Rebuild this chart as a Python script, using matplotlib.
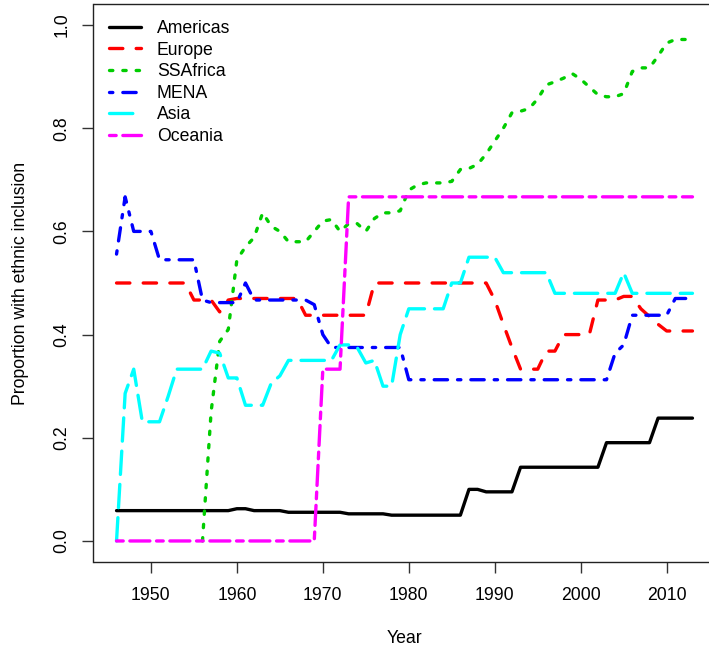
import numpy as np
import matplotlib
matplotlib.use("Agg")
import matplotlib.pyplot as plt

plt.rcParams['font.family'] = ['Liberation Sans', 'DejaVu Sans']

years = list(range(1946, 2014))

americas = [0.0588, 0.0588, 0.0588, 0.0588, 0.0588, 0.0588, 0.0588, 0.0588, 0.0588, 0.0588,
            0.0588, 0.0588, 0.0588, 0.0588, 0.0625, 0.0625, 0.0588, 0.0588, 0.0588, 0.0588,
            0.0556, 0.0556, 0.0556, 0.0556, 0.0556, 0.0556, 0.0556, 0.0526, 0.0526, 0.0526,
            0.0526, 0.0526, 0.05, 0.05, 0.05, 0.05, 0.05, 0.05, 0.05, 0.05,
            0.05, 0.1, 0.1, 0.0952, 0.0952, 0.0952, 0.0952, 0.1429, 0.1429, 0.1429,
            0.1429, 0.1429, 0.1429, 0.1429, 0.1429, 0.1429, 0.1429, 0.1905, 0.1905, 0.1905,
            0.1905, 0.1905, 0.1905, 0.2381, 0.2381, 0.2381, 0.2381, 0.2381]

europe = [0.5, 0.5, 0.5, 0.5, 0.5, 0.5, 0.5, 0.5, 0.5, 0.467,
          0.467, 0.467, 0.444, 0.467, 0.47, 0.47, 0.47, 0.47, 0.47, 0.47,
          0.47, 0.47, 0.4375, 0.4375, 0.4375, 0.4375, 0.4375, 0.4375, 0.4375, 0.4375,
          0.5, 0.5, 0.5, 0.5, 0.5, 0.5, 0.5, 0.5, 0.5, 0.5,
          0.5, 0.5, 0.5, 0.5, 0.467, 0.42, 0.375, 0.333, 0.333, 0.333,
          0.368, 0.368, 0.4, 0.4, 0.4, 0.4, 0.467, 0.467, 0.467, 0.474,
          0.474, 0.45, 0.435, 0.42, 0.407, 0.407, 0.407, 0.407]

ssafrica = [np.nan, np.nan, np.nan, np.nan, np.nan, np.nan, np.nan, np.nan, np.nan, np.nan,
            0.0, 0.25, 0.387, 0.41, 0.545, 0.57, 0.588, 0.636, 0.61, 0.6,
            0.58, 0.58, 0.58, 0.6, 0.62, 0.623, 0.6, 0.615, 0.615, 0.6,
            0.625, 0.636, 0.636, 0.64, 0.68, 0.69, 0.694, 0.694, 0.694, 0.697,
            0.72, 0.722, 0.73, 0.75, 0.775, 0.8, 0.83, 0.833, 0.838, 0.857,
            0.884, 0.89, 0.897, 0.906, 0.895, 0.88, 0.865, 0.861, 0.861, 0.867,
            0.91, 0.917, 0.917, 0.94, 0.965, 0.972, 0.972, 0.972]

mena = [0.556, 0.667, 0.6, 0.6, 0.6, 0.545, 0.545, 0.545, 0.545, 0.545,
        0.467, 0.462, 0.462, 0.462, 0.462, 0.5, 0.467, 0.467, 0.467, 0.467,
        0.467, 0.467, 0.467, 0.458, 0.4, 0.375, 0.375, 0.375, 0.375, 0.375,
        0.375, 0.375, 0.375, 0.375, 0.3125, 0.3125, 0.3125, 0.3125, 0.3125, 0.3125,
        0.3125, 0.3125, 0.3125, 0.3125, 0.3125, 0.3125, 0.3125, 0.3125, 0.3125, 0.3125,
        0.3125, 0.3125, 0.3125, 0.3125, 0.3125, 0.3125, 0.3125, 0.3125, 0.364, 0.38,
        0.4375, 0.4375, 0.4375, 0.4375, 0.4375, 0.47, 0.47, 0.47]

asia = [0.0, 0.286, 0.333, 0.231, 0.231, 0.231, 0.28, 0.333, 0.333, 0.333,
        0.333, 0.368, 0.364, 0.316, 0.316, 0.263, 0.263, 0.263, 0.306, 0.32,
        0.35, 0.35, 0.35, 0.35, 0.35, 0.35, 0.38, 0.38, 0.375, 0.345,
        0.35, 0.3, 0.3, 0.4, 0.45, 0.45, 0.45, 0.45, 0.45, 0.5,
        0.5, 0.55, 0.55, 0.55, 0.55, 0.52, 0.52, 0.52, 0.52, 0.52,
        0.52, 0.48, 0.48, 0.48, 0.48, 0.48, 0.48, 0.48, 0.48, 0.52,
        0.48, 0.48, 0.48, 0.48, 0.48, 0.48, 0.48, 0.48]

oceania = [0.0, 0.0, 0.0, 0.0, 0.0, 0.0, 0.0, 0.0, 0.0, 0.0,
           0.0, 0.0, 0.0, 0.0, 0.0, 0.0, 0.0, 0.0, 0.0, 0.0,
           0.0, 0.0, 0.0, 0.0, 0.333, 0.333, 0.333, 0.667, 0.667, 0.667,
           0.667, 0.667, 0.667, 0.667, 0.667, 0.667, 0.667, 0.667, 0.667, 0.667,
           0.667, 0.667, 0.667, 0.667, 0.667, 0.667, 0.667, 0.667, 0.667, 0.667,
           0.667, 0.667, 0.667, 0.667, 0.667, 0.667, 0.667, 0.667, 0.667, 0.667,
           0.667, 0.667, 0.667, 0.667, 0.667, 0.667, 0.667, 0.667]

region_names = ["Americas", "Europe", "SSAfrica", "MENA", "Asia", "Oceania"]
region_values = [americas, europe, ssafrica, mena, asia, oceania]
region_colors = ["#000000", "#FF0000", "#00CD00", "#0000FF", "#00FFFF", "#FF00FF"]
# R line types: solid, dashed, dotted, dotdash, longdash, twodash
region_dashes = [None, (4, 4), (1, 3), (1, 3, 4, 3), (7, 3), (2, 2, 6, 2)]

x_ticks = [1950, 1960, 1970, 1980, 1990, 2000, 2010]
y_ticks = [0.0, 0.2, 0.4, 0.6, 0.8, 1.0]
y_tick_labels = ["0.0", "0.2", "0.4", "0.6", "0.8", "1.0"]

FS = 12.7
LW = 2.4

fig = plt.figure(figsize=(7.09, 6.52), dpi=100)
W, H = 709, 652
ax_l, ax_r, ax_t, ax_b = 93.5, 715.5, 4.4, 561.6
ax = fig.add_axes([ax_l / W, 1 - ax_b / H, (ax_r - ax_l) / W, (ax_b - ax_t) / H])

handles = []
for name, vals, col, dsh in zip(region_names, region_values, region_colors, region_dashes):
    kw = dict(color=col, lw=LW, label=name, solid_capstyle='round', dash_capstyle='round',
              solid_joinstyle='round', dash_joinstyle='round')
    line, = ax.plot(years, vals, **kw)
    if dsh is not None:
        line.set_dashes(dsh)
    handles.append(line)

x0, x1 = years[0], years[-1]
pad_x = 0.04 * (x1 - x0)
ax.set_xlim(x0 - pad_x, x1 + pad_x)
ax.set_ylim(-0.04, 1.04)

ax.set_xticks(x_ticks)
ax.set_xticklabels([str(t) for t in x_ticks], fontsize=FS)
ax.set_yticks(y_ticks)
ax.set_yticklabels(y_tick_labels, fontsize=FS, rotation=90, va='center')
ax.tick_params(axis='both', direction='out', length=7.7, width=1.0, color='#333333')
ax.tick_params(axis='x', pad=10.5)
ax.tick_params(axis='y', pad=9)
for sp in ax.spines.values():
    sp.set_linewidth(1.0)
    sp.set_color('#222222')

ax.set_xlabel("Year", fontsize=FS, labelpad=19)
ax.set_ylabel("Proportion with ethnic inclusion", fontsize=FS, labelpad=17.5)

ax.legend(handles=handles, loc='upper left', bbox_to_anchor=(0, 1), frameon=False,
          fontsize=FS, borderaxespad=0, borderpad=0.88, handlelength=1.8,
          handletextpad=0.92, labelspacing=0.26)

fig.savefig("out.png", dpi=100)
